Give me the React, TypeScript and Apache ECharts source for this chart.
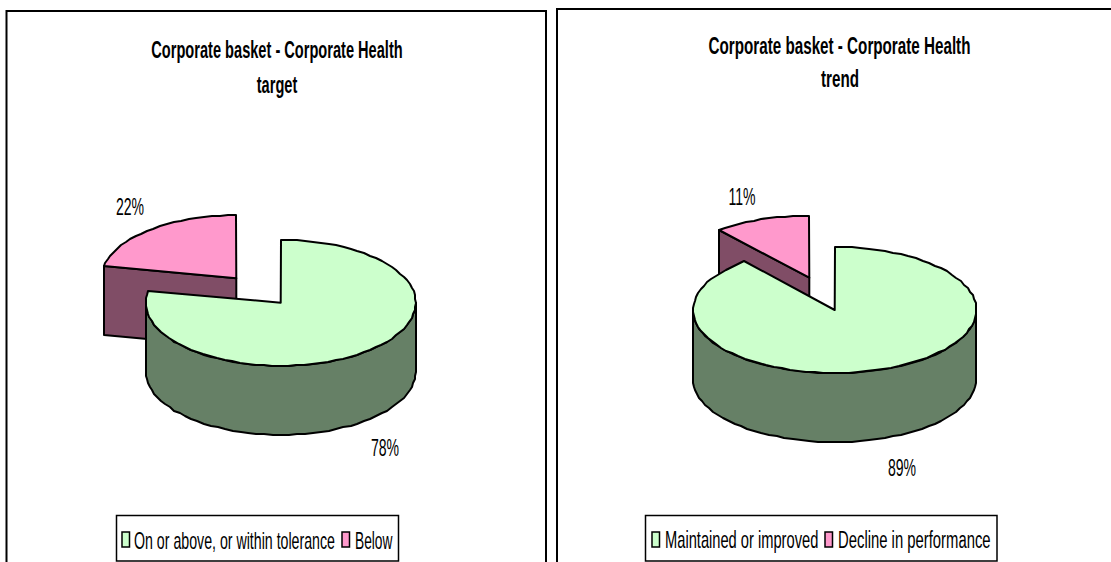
import React, { useEffect, useRef } from "react";
import * as echarts from "echarts";

const titleLine = "Corporate basket - Corporate Health";
const leftSubtitle = "target";
const rightSubtitle = "trend";
const leftCategories = ["On or above, or within tolerance", "Below"];
const rightCategories = ["Maintained or improved", "Decline in performance"];
const leftValues = [78, 22];
const rightValues = [89, 11];

const FONT = "'Liberation Sans', Arial, sans-serif";
const SIZE = 24;
const K = 21 / SIZE;
const TOP = ["#CCFFCC", "#FF99CC"];
const SIDE = ["#668066", "#804D66"];
const DEPTH = 69;
const LABEL_SCALE = 0.67 * K;

type Pie = { cx: number; cy: number; rx: number; ry: number; labelX: number; labelY: number };

const ell = (p: Pie, a: number, dy = 0) => {
  const r = (a * Math.PI) / 180;
  return [Math.round(p.cx + p.rx * Math.sin(r)), Math.round(p.cy - p.ry * Math.cos(r) + dy)];
};

const arc = (p: Pie, a0: number, a1: number, dy = 0) => {
  const out: number[][] = [];
  const n = Math.max(2, Math.ceil((a1 - a0) / 3.5));
  for (let i = 0; i <= n; i++) out.push(ell(p, a0 + ((a1 - a0) * i) / n, dy));
  return out;
};

const lineStyle = (fill: string) => ({ fill, stroke: "#000", lineWidth: 2, lineJoin: "round" as const });

function sliceSeries(name: string, start: number, value: number, idx: number, p: Pie) {
  return {
    type: "custom" as const,
    name,
    coordinateSystem: "none" as const,
    z: idx === 0 ? 3 : 2,
    itemStyle: { color: TOP[idx] },
    data: [[start, value]],
    renderItem: (_: unknown, api: any) => {
      const a0 = (api.value(0) / 100) * 360;
      const v = api.value(1);
      const a1 = a0 + (v / 100) * 360;
      const children: any[] = [];
      const side = lineStyle(SIDE[idx]);
      const poly = (points: number[][], style: any) => ({ type: "polygon", shape: { points }, style });
      const c = [p.cx, p.cy];
      const cb = [p.cx, p.cy + DEPTH];
      if (a0 > 180 && a0 < 360) {
        const e = ell(p, a0);
        children.push(poly([c, e, [e[0], e[1] + DEPTH], cb], side));
      }
      if (a1 > 0 && a1 < 180) {
        const e = ell(p, a1);
        children.push(poly([c, e, [e[0], e[1] + DEPTH], cb], side));
      }
      const r0 = Math.max(a0, 90);
      const r1 = Math.min(a1, 270);
      if (r1 > r0) {
        const topEdge = arc(p, r0, r1);
        const botEdge = arc(p, r0, r1, DEPTH).reverse();
        children.push(poly([...topEdge, ...botEdge], side));
      }
      children.push(poly([c, ...arc(p, a0, a1)], lineStyle(TOP[idx])));
      children.push({
        type: "text",
        x: p.labelX,
        y: p.labelY,
        scaleX: LABEL_SCALE,
        style: {
          text: `${v}%`,
          font: `${SIZE}px ${FONT}`,
          fill: "#000",
          align: "center",
          verticalAlign: "middle",
        },
      });
      return { type: "group", children };
    },
  };
}

const leftPies: Pie[] = [
  { cx: 280.7, cy: 302.7, rx: 135, ry: 63, labelX: 385, labelY: 447 },
  { cx: 236.3, cy: 278.3, rx: 135, ry: 63, labelX: 130, labelY: 206 },
];
const rightPies: Pie[] = [
  { cx: 834.7, cy: 310, rx: 141.7, ry: 63, labelX: 902, labelY: 467 },
  { cx: 809.3, cy: 277.7, rx: 141.7, ry: 62, labelX: 742, labelY: 196 },
];

function buildSeries(names: string[], values: number[], pies: Pie[]) {
  return [
    sliceSeries(names[0], 0, values[0], 0, pies[0]),
    sliceSeries(names[1], values[0], values[1], 1, pies[1]),
  ];
}

const regular = (text: string, x: number, y: number, scaleX: number) => ({
  type: "text",
  x,
  y,
  scaleX: scaleX * K,
  z: 5,
  style: { text, font: `${SIZE}px ${FONT}`, fill: "#000", align: "left", verticalAlign: "middle" },
});
const bold = (text: string, x: number, y: number, scaleX: number) => ({
  type: "text",
  x,
  y,
  scaleX: scaleX * K,
  z: 5,
  style: { text, font: `bold ${SIZE}px ${FONT}`, fill: "#000", align: "center", verticalAlign: "middle" },
});
const swatch = (x: number, color: string) => ({
  type: "rect",
  z: 5,
  shape: { x, y: 532, width: 7.5, height: 15 },
  style: { fill: color, stroke: "#000", lineWidth: 1.5 },
});
const box = (x: number, y: number, width: number, height: number, lineWidth: number) => ({
  type: "rect",
  z: 1,
  shape: { x, y, width, height },
  style: { fill: "#fff", stroke: "#000", lineWidth },
});

export default function App() {
  const ref = useRef<HTMLDivElement>(null);
  useEffect(() => {
    if (!ref.current) return;
    const chart = echarts.init(ref.current, undefined, { renderer: "svg" });
    chart.setOption({
      animation: false,
      backgroundColor: "#fff",
      graphic: [
        box(6.5, 11, 539.5, 570, 2),
        box(557, 9, 570, 570, 2),
        box(116.5, 515.5, 282, 45.5, 1.5),
        box(645.5, 515.5, 351.5, 45.5, 1.5),
        bold(titleLine, 277, 50, 0.695),
        bold(leftSubtitle, 277, 85, 0.695),
        bold(titleLine, 839.5, 46, 0.725),
        bold(rightSubtitle, 840, 79, 0.725),
        swatch(122, TOP[0]),
        regular(leftCategories[0], 134, 540, 0.675),
        swatch(342, TOP[1]),
        regular(leftCategories[1], 355, 540, 0.655),
        swatch(652, TOP[0]),
        regular(rightCategories[0], 665, 540, 0.7),
        swatch(825, TOP[1]),
        regular(rightCategories[1], 838, 540, 0.707),
      ],
      series: [
        ...buildSeries(leftCategories, leftValues, leftPies),
        ...buildSeries(rightCategories, rightValues, rightPies),
      ],
    });
    return () => chart.dispose();
  }, []);
  return <div ref={ref} style={{ position: "fixed", left: 0, top: 0, width: 1111, height: 562 }} />;
}
